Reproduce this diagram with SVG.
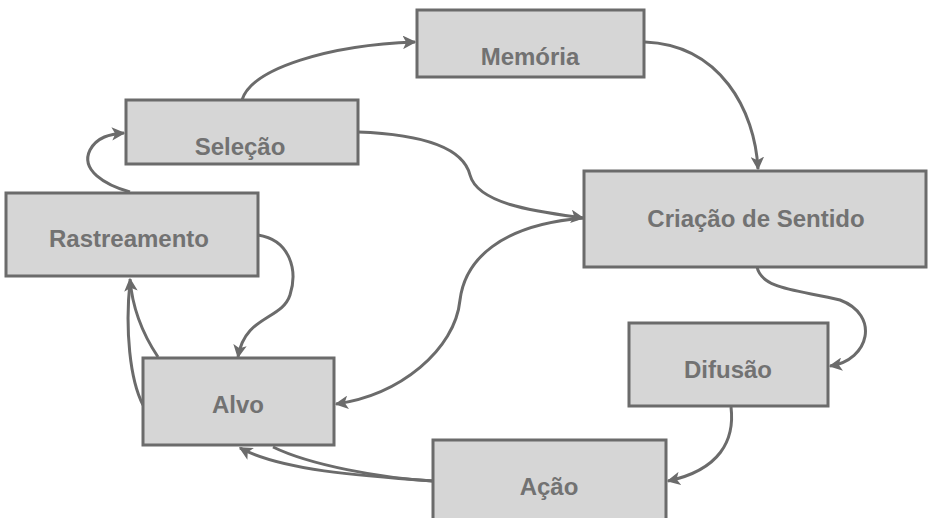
<svg xmlns="http://www.w3.org/2000/svg" width="931" height="518" viewBox="0 0 931 518">
<defs>
<style>
.box{fill:#d6d6d6;stroke:#6b6b6b;stroke-width:3}
.lbl{font-family:"Liberation Sans",Arial,sans-serif;font-weight:bold;font-size:24px;fill:#727272;text-anchor:middle}
.con{fill:none;stroke:#6b6b6b;stroke-width:3}
</style>
<marker id="ah" viewBox="0 0 10 10" refX="9" refY="5" markerWidth="4.5" markerHeight="4.5" orient="auto" markerUnits="strokeWidth">
<path d="M0,0 L10,5 L0,10 L2.5,5 Z" fill="#6b6b6b"/>
</marker>
</defs>
<rect width="931" height="518" fill="#ffffff"/>
<g id="connectors">
<path class="con" marker-end="url(#ah)" d="M242,100 C252,68 330,45 415,42"/>
<path class="con" marker-end="url(#ah)" d="M645,42 C720,45 755,110 758,169"/>
<path class="con" marker-end="url(#ah)" d="M358,132 C440,135 465,155 470,175 C478,205 540,212 583,218"/>
<path class="con" marker-end="url(#ah)" d="M583,218 C500,225 465,260 460,300 C455,350 400,395 336,404"/>
<path class="con" marker-end="url(#ah)" d="M258,235 C290,240 298,270 290,295 C282,320 245,315 238,357"/>
<path class="con" marker-end="url(#ah)" d="M130,192 C105,185 80,170 90,150 C97,137 110,134 124,133"/>
<path class="con" marker-end="url(#ah)" d="M158,357 C140,330 132,305 130,279"/>
<path class="con" d="M143,405 C130,380 125,330 130,282"/>
<path class="con" marker-end="url(#ah)" d="M433,481 C360,476 280,470 240,448"/>
<path class="con" d="M273,447 C310,465 380,478 433,481"/>
<path class="con" marker-end="url(#ah)" d="M757,267 C762,290 800,290 840,300 C880,315 870,360 830,366"/>
<path class="con" marker-end="url(#ah)" d="M731,407 C735,440 720,470 668,481"/>
</g>
<g id="memoria"><rect class="box" x="417" y="10" width="227" height="67"/><text class="lbl" x="530" y="65">Memória</text></g>
<g id="selecao"><rect class="box" x="126" y="100" width="232" height="64"/><text class="lbl" x="240" y="155">Seleção</text></g>
<g id="rastreamento"><rect class="box" x="6" y="193" width="252" height="83"/><text class="lbl" x="129" y="247">Rastreamento</text></g>
<g id="criacao"><rect class="box" x="584" y="171" width="342" height="96"/><text class="lbl" x="756" y="227">Criação de Sentido</text></g>
<g id="difusao"><rect class="box" x="629" y="323" width="199" height="83"/><text class="lbl" x="728" y="378">Difusão</text></g>
<g id="alvo"><rect class="box" x="143" y="358" width="191" height="87"/><text class="lbl" x="238" y="413">Alvo</text></g>
<g id="acao"><rect class="box" x="433" y="440" width="233" height="90"/><text class="lbl" x="549" y="495">Ação</text></g>
</svg>
